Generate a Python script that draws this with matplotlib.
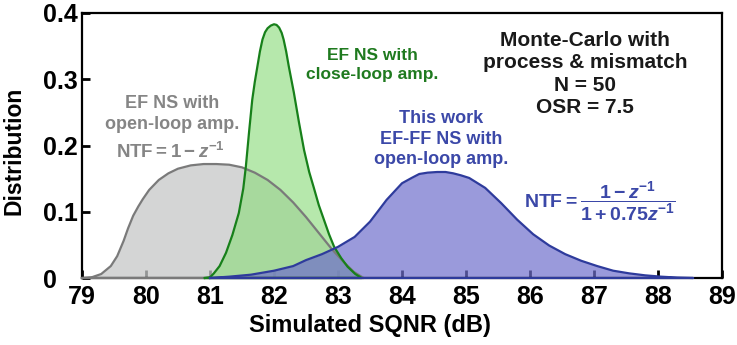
import numpy as np
import matplotlib
matplotlib.use("Agg")
import matplotlib.pyplot as plt

plt.rcParams['font.family'] = ['Liberation Sans', 'DejaVu Sans']
plt.rcParams['font.weight'] = 'bold'
plt.rcParams['axes.labelweight'] = 'bold'
plt.rcParams['mathtext.fontset'] = 'custom'
plt.rcParams['mathtext.rm'] = 'Liberation Sans:bold'
plt.rcParams['mathtext.bf'] = 'Liberation Sans:bold'
plt.rcParams['mathtext.it'] = 'Liberation Sans:bold:italic'

# EF NS with open-loop amp. (gray)
gray_x = [79.0, 79.15, 79.3, 79.45, 79.55, 79.65, 79.72, 79.8, 79.88, 79.95, 80.05,
          80.2, 80.35, 80.5, 80.7, 80.9, 81.1, 81.3, 81.5, 81.7, 81.9, 82.1, 82.3,
          82.5, 82.7, 82.9, 83.1, 83.25, 83.4]
gray_y = [0.0, 0.001, 0.006, 0.018, 0.033, 0.056, 0.075, 0.094, 0.108, 0.119, 0.133,
          0.148, 0.158, 0.165, 0.170, 0.172, 0.172, 0.171, 0.167, 0.159, 0.148, 0.133,
          0.114, 0.092, 0.068, 0.044, 0.023, 0.009, 0.0]

# EF NS with close-loop amp. (green)
green_x = [80.92, 81.0, 81.06, 81.15, 81.25, 81.35, 81.45, 81.52, 81.56, 81.61,
           81.66, 81.7, 81.74, 81.78, 81.82, 81.86, 81.9, 81.95, 82.0, 82.04, 82.08,
           82.12, 82.15, 82.19, 82.23, 82.31, 82.39, 82.47, 82.55, 82.62, 82.7,
           82.78, 82.86, 82.94, 83.05, 83.15, 83.27, 83.37]
green_y = [0.0, 0.001, 0.007, 0.018, 0.038, 0.065, 0.098, 0.135, 0.168, 0.22,
           0.269, 0.296, 0.319, 0.342, 0.36, 0.371, 0.377, 0.381, 0.383, 0.382, 0.378,
           0.370, 0.36, 0.342, 0.32, 0.28, 0.235, 0.193, 0.16, 0.137, 0.11,
           0.088, 0.066, 0.047, 0.03, 0.017, 0.006, 0.0]

# This work, EF-FF NS with open-loop amp. (blue)
blue_x = [81.0, 81.3, 81.64, 82.0, 82.3, 82.5, 82.75, 83.0, 83.26, 83.5, 83.76,
          84.0, 84.15, 84.27, 84.4, 84.55, 84.68, 84.8, 84.92, 85.05, 85.3, 85.55,
          85.8, 86.05, 86.3, 86.55, 86.8, 87.05, 87.3, 87.55, 87.8, 88.05, 88.3, 88.55]
blue_y = [0.0, 0.002, 0.005, 0.011, 0.018, 0.027, 0.036, 0.047, 0.062, 0.085, 0.118,
          0.143, 0.151, 0.157, 0.159, 0.160, 0.160, 0.158, 0.155, 0.151, 0.136, 0.113,
          0.088, 0.066, 0.049, 0.036, 0.026, 0.018, 0.011, 0.007, 0.004, 0.002, 0.0006, 0.0]

x_ticks = [79, 80, 81, 82, 83, 84, 85, 86, 87, 88, 89]
y_ticks = [0, 0.1, 0.2, 0.3, 0.4]
y_tick_labels = ['0', '0.1', '0.2', '0.3', '0.4']

W, H = 737, 345


def px(x, y):
    # pixel position of the reference -> figure fraction
    return x / W, 1 - y / H


fig = plt.figure(figsize=(W / 100, H / 100), dpi=100)
ax = fig.add_axes([82 / W, 1 - 278 / H, 640 / W, 265 / H])

curves = [
    (gray_x, gray_y, '#c6c8c8', '#7a7a7a', 0.75),
    (green_x, green_y, '#8fdc80', '#17801a', 0.65),
    (blue_x, blue_y, '#6f6fcc', '#2e3b9c', 0.70),
]
for i, (cx, cy, fill_c, line_c, a) in enumerate(curves):
    ax.fill_between(cx, cy, 0, color=fill_c, alpha=a, lw=0, zorder=2 + i * 0.1)
    ax.plot(cx + [cx[0]], cy + [cy[0]], color=line_c, lw=1.6,
            clip_on=False, zorder=3 + i * 0.1, solid_joinstyle='round')

ax.set_xlim(79, 89)
ax.set_ylim(0, 0.4)
ax.set_xticks(x_ticks)
ax.set_yticks(y_ticks)
ax.set_yticklabels(y_tick_labels, ha='left')
ax.tick_params(direction='in', length=6, width=2, labelsize=18, color='black')
ax.tick_params(axis='x', pad=5)
ax.tick_params(axis='y', pad=28)
for s in ax.spines.values():
    s.set_linewidth(1.6)

ax.set_ylabel('Distribution', fontsize=16.5, fontweight='bold')
ax.yaxis.set_label_coords(-0.088, 0.48)
ax.set_xlabel('Simulated SQNR (dB)', fontsize=17, fontweight='bold', va='center')
ax.xaxis.set_label_coords(0.45, -0.181)

fig.text(*px(585, 74), 'Monte-Carlo with\nprocess & mismatch\nN = 50\nOSR = 7.5',
         ha='center', va='center', ma='center', fontsize=15, linespacing=1.22,
         color='#1a1a1a')
fig.text(*px(372, 65), 'EF NS with\nclose-loop amp.', ha='center', va='center',
         ma='center', fontsize=12.5, linespacing=1.3, color='#1f7a1f')
fig.text(*px(172, 114), 'EF NS with\nopen-loop amp.', ha='center', va='center',
         ma='center', fontsize=13, linespacing=1.25, color='#858585')
fig.text(*px(170, 152), r'$\mathrm{NTF} = 1 - z^{-1}$', ha='center', va='center',
         fontsize=13.5, color='#858585')
fig.text(*px(441, 139), 'This work\nEF-FF NS with\nopen-loop amp.', ha='center',
         va='center', ma='center', fontsize=13, linespacing=1.25, color='#3b48a8')
fig.text(*px(600, 202), r'$\mathrm{NTF} = \dfrac{1 - z^{-1}}{1 + 0.75z^{-1}}$',
         ha='center', va='center', fontsize=14, color='#3b48a8')

fig.savefig('out.png', dpi=100)
